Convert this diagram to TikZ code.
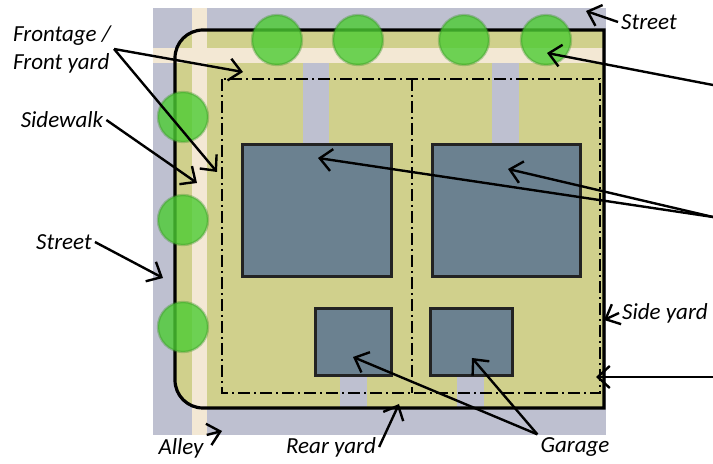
\documentclass[tikz,border=0pt]{standalone}
\usepackage{fontspec}
\setmainfont{Carlito}
\usetikzlibrary{arrows.meta}
\definecolor{streetgray}{RGB}{190,192,208}
\definecolor{walkbeige}{RGB}{243,232,212}
\definecolor{lotolive}{RGB}{208,208,140}
\definecolor{houseblue}{RGB}{107,129,144}
\definecolor{housedark}{RGB}{35,35,35}
\definecolor{treegreen}{RGB}{76,204,51}

\begin{document}
\begin{tikzpicture}[x=0.5pt, y=-0.5pt, line width=1.2pt,
	>={Straight Barb[length=6pt,width=11pt]},
	lbl/.style={font=\itshape\fontsize{11.5}{14}\selectfont, inner sep=1pt},
	house/.style={draw=housedark, fill=houseblue, line width=1.5pt},
	yardline/.style={line width=1pt, dash pattern=on 6pt off 2pt on 1pt off 2pt},
	lotline/.style={line width=1.6pt},
	tree/.style={fill=treegreen, draw=treegreen!70!black, fill opacity=0.8, draw opacity=0.35, line width=1.2pt}]
	\useasboundingbox (0,0) rectangle (713,464);

	\fill[streetgray] (153,8) rectangle (606,435);
	\fill[lotolive] (604,30) -- (203,30) .. controls (187.5,30) and (175,42.5) .. (175,58)
		-- (175,380) .. controls (175,395.5) and (187.5,408) .. (203,408) -- (604,408) -- cycle;
	\fill[walkbeige] (192,8) rectangle (207,435);
	\fill[walkbeige] (153,48) rectangle (604,63);
	\fill[streetgray] (303,63) rectangle (329,145);
	\fill[streetgray] (492,63) rectangle (519,145);
	\fill[streetgray] (340,376) rectangle (367,408);
	\fill[streetgray] (457,376) rectangle (484,408);
	\draw[lotline] (604,30) -- (203,30) .. controls (187.5,30) and (175,42.5) .. (175,58)
		-- (175,380) .. controls (175,395.5) and (187.5,408) .. (203,408) -- (604,408) -- cycle;

	\draw[house] (242,145) rectangle (391,277);
	\draw[house] (432,145) rectangle (580,277);
	\draw[house] (315,309) rectangle (391,376);
	\draw[house] (430,309) rectangle (512,376);

	\draw[yardline] (222,79) rectangle (600,393);
	\draw[yardline] (412,79) -- (412,393);

	\filldraw[tree] (277,40) circle[radius=25];
	\filldraw[tree] (358,40) circle[radius=25];
	\filldraw[tree] (464,40) circle[radius=25];
	\filldraw[tree] (546,40) circle[radius=25];
	\filldraw[tree] (183,117) circle[radius=25];
	\filldraw[tree] (183,220) circle[radius=25];
	\filldraw[tree] (183,327) circle[radius=25];

	\node[lbl, align=left] (front) at (62,49) {Frontage /\\Front yard};
	\node[lbl] (sidewalk) at (62,120) {Sidewalk};
	\node[lbl] (streetW) at (64,242) {Street};
	\node[lbl] (streetN) at (649,22) {Street};
	\node[lbl] (sideyard) at (665,313) {Side yard};
	\node[lbl] (alley) at (181,448) {Alley};
	\node[lbl] (rearyard) at (331,447) {Rear yard};
	\node[lbl] (garage) at (575,447) {Garage};

	\coordinate (fyTop) at (243,72);
	\coordinate (fyLeft) at (217,172);
	\coordinate (swPt) at (197,183);
	\coordinate (stW) at (163,278);
	\coordinate (stN) at (586,11);
	\coordinate (syPt) at (604,320);
	\coordinate (alPt) at (222,431);
	\coordinate (ryPt) at (399,404);
	\coordinate (gar1) at (353,357);
	\coordinate (gar2) at (472,358);
	\coordinate (edgeTree) at (713,85);
	\coordinate (treePt) at (547,53);
	\coordinate (edgeHouse) at (713,217);
	\coordinate (house1) at (318,158);
	\coordinate (house2) at (508,169);
	\coordinate (edgeSet) at (713,377);
	\coordinate (setPt) at (596,377);

	\draw [arrows=->] (front.east) -- (fyTop);
	\draw [arrows=->] (front.east) -- (fyLeft);
	\draw [arrows=->] (sidewalk.east) -- (swPt);
	\draw [arrows=->] (streetW.east) -- (stW);
	\draw [arrows=->] (streetN.west) -- (stN);
	\draw [arrows=->] (sideyard.west) -- (syPt);
	\draw [arrows=->] (alley.north east) -- (alPt);
	\draw [arrows=->] (rearyard.east) -- (ryPt);
	\draw [arrows=->] (garage.north west) -- (gar1);
	\draw [arrows=->] (garage.north west) -- (gar2);
	\draw [arrows=->] (edgeTree) -- (treePt);
	\draw [arrows=->] (edgeHouse) -- (house1);
	\draw [arrows=->] (edgeHouse) -- (house2);
	\draw [arrows=->] (edgeSet) -- (setPt);
\end{tikzpicture}
\end{document}
